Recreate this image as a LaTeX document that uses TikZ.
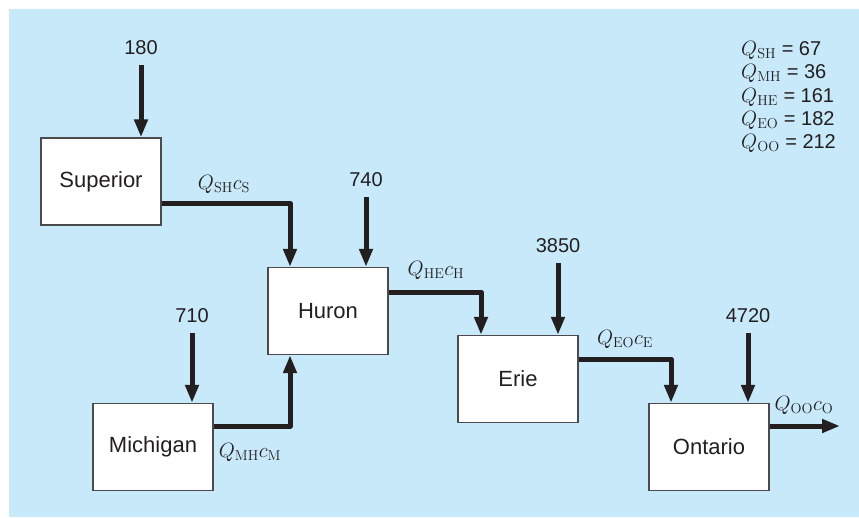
\documentclass[tikz,border=0pt]{standalone}
\usepackage[no-math]{fontspec}
\setmainfont{Liberation Sans}
\usepackage{amsmath}
\usepackage{xcolor}
\usetikzlibrary{arrows.meta}

\definecolor{lakebg}{RGB}{199,233,249}
\definecolor{ink}{RGB}{35,31,32}
\definecolor{rim}{RGB}{75,75,78}

\begin{document}
\begin{tikzpicture}[x=1pt,y=-1pt,
    >={Triangle[length=18pt,width=13pt]},
    font=\fontsize{20}{23.3}\selectfont,
    lake/.style={draw=rim,line width=1.3pt,fill=white,minimum width=120pt,minimum height=87pt,inner sep=0pt,
      font=\fontsize{22}{26}\selectfont,text=ink},
    flow/.style={->,draw=ink,line width=5pt,line join=round},
    feed/.style={flow,shorten <=10pt},
    num/.style={text=ink,inner sep=0pt},
    qlab/.style={text=ink,inner sep=0pt}]
  % frame
  \useasboundingbox (0,0) rectangle (859,517);
  \fill[lakebg] (9,9) rectangle (859,517);
  % lakes
  \node[lake] (sup) at (101,181.5) {Superior};
  \node[lake] (hur) at (328,311) {Huron};
  \node[lake] (mic) at (153,447) {Michigan};
  \node[lake] (eri) at (518,379) {Erie};
  \node[lake] (ont) at (709,447) {Ontario};
  \coordinate (sea) at (840,426);
  % loads
  \node[num] (n180) at (141,48) {180};
  \node[num] (n740) at (366,180) {740};
  \node[num] (n710) at (192,316) {710};
  \node[num] (n3850) at (558,246) {3850};
  \node[num] (n4720) at (748,316) {4720};
  \draw[feed] (n180) -- (n180 |- sup.north);
  \draw[feed] (n740) -- (n740 |- hur.north);
  \draw[feed] (n710) -- (n710 |- mic.north);
  \draw[feed] (n3850) -- (n3850 |- eri.north);
  \draw[feed] (n4720) -- (n4720 |- ont.north);
  % outflows between lakes
  \draw[flow] ([yshift=-21.5pt]sup.east) -| ([xshift=-38pt]hur.north);
  \draw[flow] ([yshift=21pt]mic.east) -| ([xshift=-38pt]hur.south);
  \draw[flow] ([yshift=19pt]hur.east) -| ([xshift=-37pt]eri.north);
  \draw[flow] ([yshift=20pt]eri.east) -| ([xshift=-38pt]ont.north);
  \draw[flow] ([yshift=21pt]ont.east) -- (sea);
  % flow labels
  \node[qlab] (lsh) at (224,184) {$Q_{\mathrm{SH}}c_{\mathrm{S}}$};
  \node[qlab] (lmh) at (250,452) {$Q_{\mathrm{MH}}c_{\mathrm{M}}$};
  \node[qlab] (lhe) at (436,270) {$Q_{\mathrm{HE}}c_{\mathrm{H}}$};
  \node[qlab] (leo) at (625,339) {$Q_{\mathrm{EO}}c_{\mathrm{E}}$};
  \node[qlab] (loo) at (804,405) {$Q_{\mathrm{OO}}c_{\mathrm{O}}$};
  % flow values
  \node[qlab,anchor=west,align=left] (vals) at (741,97)
    {$Q_{\mathrm{SH}}$ = 67\\ $Q_{\mathrm{MH}}$ = 36\\ $Q_{\mathrm{HE}}$ = 161\\ $Q_{\mathrm{EO}}$ = 182\\ $Q_{\mathrm{OO}}$ = 212};
\end{tikzpicture}
\end{document}
